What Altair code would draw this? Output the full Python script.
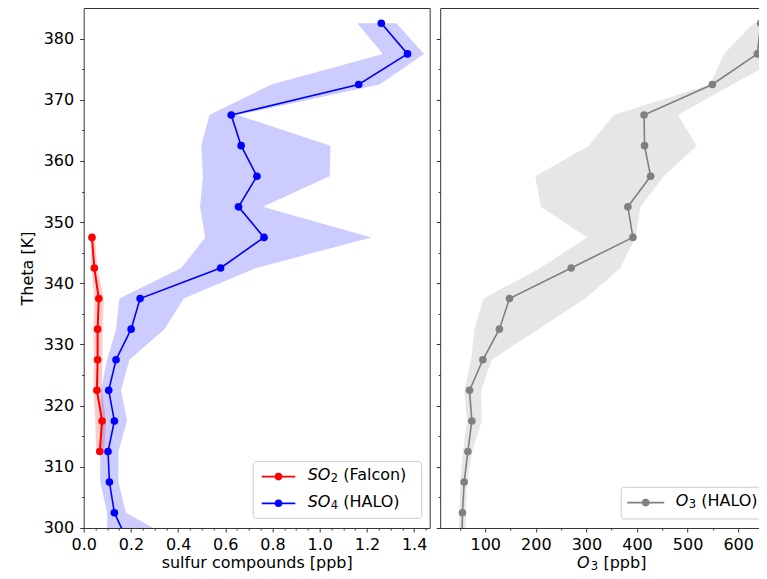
import altair as alt
import pandas as pd

# ---------------- data ----------------
theta = [297.5, 302.5, 307.5, 312.5, 317.5, 322.5, 327.5, 332.5, 337.5,
         342.5, 347.5, 352.5, 357.5, 362.5, 367.5, 372.5, 377.5, 382.5]

so4 = [0.19, 0.130, 0.109, 0.103, 0.130, 0.106, 0.137, 0.201, 0.239,
       0.580, 0.764, 0.656, 0.734, 0.667, 0.625, 1.165, 1.372, 1.261]
so4_lo = [0.10, 0.099, 0.070, 0.070, 0.071, 0.073, 0.099, 0.137, 0.151,
          0.413, 0.515, 0.493, 0.505, 0.498, 0.533, 0.795, 1.268, 1.159]
so4_hi = [0.41, 0.179, 0.147, 0.147, 0.184, 0.158, 0.194, 0.342, 0.424,
          0.731, 1.219, 0.759, 1.042, 1.046, 0.650, 1.254, 1.442, 1.325]

theta_so2 = [312.5, 317.5, 322.5, 327.5, 332.5, 337.5, 342.5, 347.5]
so2 = [0.068, 0.078, 0.056, 0.059, 0.059, 0.064, 0.045, 0.035]
so2_lo = [0.052, 0.049, 0.041, 0.043, 0.041, 0.045, 0.033, 0.028]
so2_hi = [0.087, 0.095, 0.077, 0.080, 0.080, 0.085, 0.058, 0.048]

o3 = [54, 55, 58.4, 65.7, 73.6, 69, 95.4, 128, 148,
      270, 392, 382, 427, 415, 414, 549, 638, 644.6]
o3_lo = [47, 49, 50.5, 56, 64, 59, 72, 79, 96.7,
         209, 301, 210, 199, 305, 354, 545, 572, 630]
o3_hi = [60, 62, 64, 74, 93, 92, 113, 205, 298,
         367, 397, 407, 453, 518, 481, 588, 700, 680]

y_ticks = [300, 305, 310, 315, 320, 325, 330, 335, 340, 345, 350, 355,
           360, 365, 370, 375, 380]
x1_ticks = [round(0.05 * i, 2) for i in range(0, 30)]
x2_ticks = [50, 100, 150, 200, 250, 300, 350, 400, 450, 500, 550, 600, 650]

df_so4 = pd.DataFrame({"theta": theta, "v": so4, "lo": so4_lo, "hi": so4_hi})
df_so2 = pd.DataFrame({"theta": theta_so2, "v": so2, "lo": so2_lo, "hi": so2_hi})
df_o3 = pd.DataFrame({"theta": theta, "v": o3, "lo": o3_lo, "hi": o3_hi})
one = pd.DataFrame({"k": [0]})

W, H = 346, 520
FONT = "DejaVu Sans"

RED, BLUE, GRAY = "#ff0000", "#0000ff", "#808080"

Y_SCALE = alt.Scale(domain=[300, 385], nice=False, zero=False)


def y_axis(show_labels):
    return alt.Axis(
        values=y_ticks,
        title="Theta [K]" if show_labels else None,
        labels=show_labels,
        labelExpr="datum.value % 10 != 0 ? '' : format(datum.value, 'd')",
        tickSize={"condition": {"test": "datum.value % 10 != 0", "value": 2}, "value": 4},
        labelPadding=6,
        titlePadding=7.5,
        grid=False,
        domain=False,
        labelOverlap=False,
    )


X1_SCALE = alt.Scale(domain=[0, 1.466], nice=False, zero=False)
X1_AXIS = alt.Axis(
    values=x1_ticks,
    title="sulfur compounds [ppb]",
    labelExpr="abs(datum.value/0.2 - round(datum.value/0.2)) > 0.01 ? '' : format(datum.value, '.1f')",
    tickSize={"condition": {"test": "abs(datum.value/0.2 - round(datum.value/0.2)) > 0.01", "value": 2}, "value": 4},
    labelPadding=5,
    titlePadding=1.5,
    grid=False,
    domain=False,
    labelOverlap=False,
    labelFlush=False,
)
X2_SCALE = alt.Scale(domain=[11, 695], nice=False, zero=False)
X2_AXIS = alt.Axis(
    values=x2_ticks,
    title=" ",
    labelExpr="datum.value % 100 != 0 ? '' : format(datum.value, 'd')",
    tickSize={"condition": {"test": "datum.value % 100 != 0", "value": 2}, "value": 4},
    labelPadding=5,
    titlePadding=1.5,
    grid=False,
    domain=False,
    labelOverlap=False,
    labelFlush=False,
)


def enc(left_panel, field):
    if left_panel:
        return dict(
            y=alt.Y("theta:Q", scale=Y_SCALE, axis=y_axis(True)),
            x=alt.X(field, scale=X1_SCALE, axis=X1_AXIS),
        )
    return dict(
        y=alt.Y("theta:Q", scale=Y_SCALE, axis=y_axis(False)),
        x=alt.X(field, scale=X2_SCALE, axis=X2_AXIS),
    )


def band(df, color, left_panel):
    return alt.Chart(df).mark_area(orient="horizontal", color=color, opacity=0.2, clip=True).encode(
        x2="hi:Q", **enc(left_panel, "lo:Q"))


def line(df, color, left_panel, sw):
    return alt.Chart(df).mark_line(color=color, strokeWidth=sw, clip=True).encode(
        order="theta:Q", **enc(left_panel, "v:Q"))


def pts(df, color, left_panel):
    return alt.Chart(df).mark_point(filled=True, color=color, size=58, opacity=1, clip=True).encode(
        **enc(left_panel, "v:Q"))


def legend_box(x0, x1, y0, y1):
    return alt.Chart(one).mark_rect(fill="white", fillOpacity=0.8, stroke="#cccccc",
                                    strokeWidth=1, cornerRadius=3).encode(
        x=alt.value(x0), x2=alt.value(x1), y=alt.value(y0), y2=alt.value(y1))


def txt(s, x, y, size=16, italic=False):
    kw = dict(text=s, font=FONT, fontSize=size, align="left", baseline="alphabetic", color="black")
    if italic:
        kw["fontStyle"] = "italic"
    return alt.Chart(one).mark_text(**kw).encode(x=alt.value(x), y=alt.value(y))


def formula_text(main, sub, rest, x_main, x_sub, x_rest, y):
    """Mathtext-like label: italic main letters, small upright subscript, plain rest."""
    return [
        txt(main, x_main, y, italic=True),
        txt(sub, x_sub, y + 2.0, size=11.5),
        txt(rest, x_rest, y),
    ]


def legend_row(color, xa, xb, y, label):
    seg = alt.Chart(one).mark_rule(color=color, strokeWidth=1.8).encode(
        x=alt.value(xa), x2=alt.value(xb), y=alt.value(y), y2=alt.value(y))
    dot = alt.Chart(one).mark_point(filled=True, color=color, size=58, opacity=1).encode(
        x=alt.value((xa + xb) / 2), y=alt.value(y))
    main, sub, rest, x_main, x_sub, x_rest = label
    return [seg, dot] + formula_text(main, sub, rest, x_main, x_sub, x_rest, y + 3.6)


left_layers = [
    band(df_so4, BLUE, True),
    band(df_so2, RED, True),
    line(df_so4, BLUE, True, 1.6),
    pts(df_so4, BLUE, True),
    line(df_so2, RED, True, 2.0),
    pts(df_so2, RED, True),
    legend_box(169.6, 338, 453.6, 510.3),
]
left_layers += legend_row(RED, 178, 211.6, 468.6, ("SO", "2", "(Falcon)", 224, 247, 259.5))
left_layers += legend_row(BLUE, 178, 211.6, 495.3, ("SO", "4", "(HALO)", 224, 247, 259.5))

left = alt.layer(*left_layers).properties(width=W, height=H)

right_layers = [
    band(df_o3, GRAY, False),
    line(df_o3, GRAY, False, 1.6),
    pts(df_o3, GRAY, False),
    legend_box(181, 339, 479.3, 511),
]
right_layers += legend_row(GRAY, 187, 224, 494.6, ("O", "3", "(HALO)", 235.5, 248.5, 261))
right_layers += formula_text("O", "3", "[ppb]", 136.7, 150.5, 163.3, 559.8)
right = alt.layer(*right_layers).properties(width=W, height=H)

chart = alt.hconcat(left, right, spacing=4.5).properties(
    padding={"left": 10.7, "top": -1, "right": -28, "bottom": 0},
    background="white",
).configure_view(
    stroke="#333333", strokeWidth=1
).configure_axis(
    labelFont=FONT, labelFontSize=16, labelColor="black",
    titleFont=FONT, titleFontSize=16, titleColor="black", titleFontWeight="normal",
    tickColor="#333333", tickWidth=1,
)

chart.save("out.html", embed_options={"renderer": "svg", "actions": False})
